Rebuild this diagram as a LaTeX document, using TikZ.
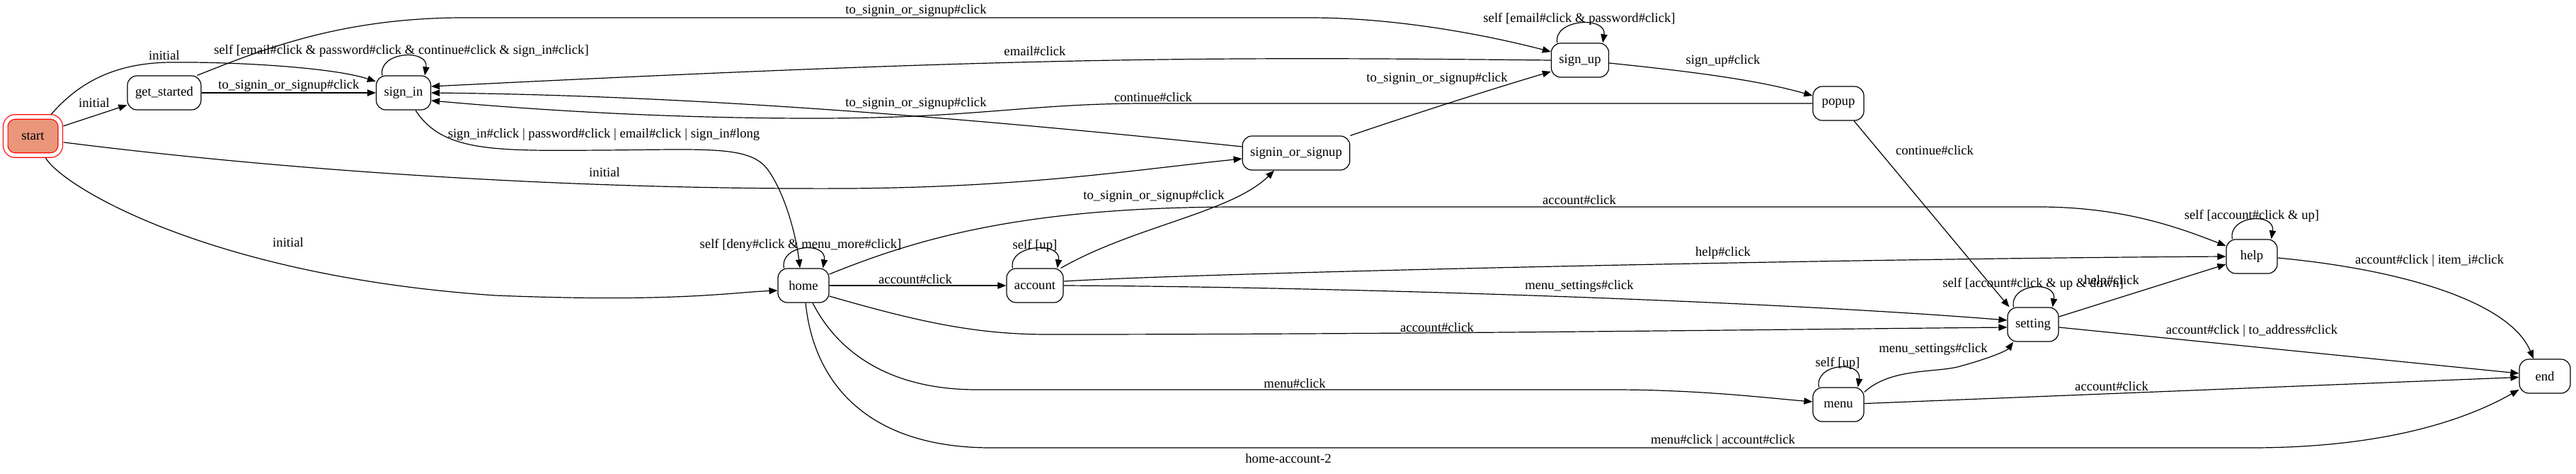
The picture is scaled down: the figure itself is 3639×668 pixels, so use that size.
\documentclass[tikz,border=0pt]{standalone}
\usepackage{fontspec}
\setmainfont{Liberation Serif}
\usetikzlibrary{arrows.meta,calc}
\definecolor{salmonfill}{HTML}{E9967A}
\tikzset{
 state/.style={draw, line width=0.9pt, rounded corners=10pt, minimum width=54pt, minimum height=36pt, inner xsep=8.25pt, inner ysep=0pt, font=\fontsize{14pt}{16pt}\selectfont},
 startstate/.style={state, draw=red, fill=salmonfill, double=white, double distance=4pt, minimum width=58pt, minimum height=40.5pt},
 lbl/.style={font=\fontsize{14pt}{16pt}\selectfont, inner sep=0pt},
 arr/.style={line width=0.9pt, -{Triangle[length=9pt,width=7pt]}},
}
\newcommand{\selfloop}[1]{\draw[arr] ($(#1.north west)+(9,0)$) .. controls ($(#1.north west)+(3,-34)$) and ($(#1.north east)+(-3,-38)$) .. ($(#1.north east)+(-9,0)$);}
\begin{document}
\begin{tikzpicture}[x=0.75pt,y=-0.75pt]
\useasboundingbox (0,0) rectangle (3639,668);
% nodes
\node[startstate] (start) at (46.5,192) {start};
\node[state] (getstarted) at (232,131) {get\_started};
\node[state] (signin) at (570,131) {sign\_in};
\node[state] (signup) at (2232,85) {sign\_up};
\node[state] (popup) at (2597,146) {popup};
\node[state] (sos) at (1831,216) {signin\_or\_signup};
\node[state] (home) at (1135,403) {home};
\node[state] (account) at (1462,403) {account};
\node[state] (setting) at (2872,458) {setting};
\node[state] (help) at (3181,362) {help};
\node[state] (menu) at (2597,571) {menu};
\node[state] (end) at (3595,531) {end};
% edges from start
\draw[arr, shorten <=3pt] (start) -- (getstarted);
\draw[arr, shorten <=3pt] (start.50) .. controls (110,118) and (160,89) .. (240,88) .. controls (330,87) and (470,95) .. ($(signin.west)+(0,-16)$);
\draw[arr, shorten <=3pt] (start.-12) .. controls (400,240) and (800,268) .. (1200,266) .. controls (1450,264) and (1600,240) .. ($(sos.west)+(0,8)$);
\draw[arr, shorten <=3pt] (start.-60) .. controls (90,265) and (300,390) .. (700,417) .. controls (950,427) and (1030,413) .. ($(home.west)+(0,7)$);
% get_started
\draw[arr] (getstarted) -- (signin);
\draw[arr] ($(getstarted.north east)+(-6,0)$) .. controls (370,70) and (480,26) .. (650,25) -- (1850,25) .. controls (1980,25) and (2110,52) .. ($(signup.west)+(0,-12)$);
% sign_in
\selfloop{signin}
\draw[arr] ($(signin.south)+(17,0)$) .. controls (625,215) and (700,213) .. (850,212) .. controls (1000,211) and (1060,205) .. (1085,240) .. controls (1110,275) and (1125,335) .. ($(home.north)+(-5,0)$);
% sign_up
\selfloop{signup}
\draw[arr] (signup.west) .. controls (1700,80) and (1450,80) .. ($(signin.east)+(0,-9)$);
\draw[arr] ($(signup.east)+(0,4)$) .. controls (2380,100) and (2480,112) .. ($(popup.west)+(0,-11)$);
% signin_or_signup
\draw[arr] ($(sos.west)+(0,-9)$) .. controls (1400,170) and (1000,135) .. (signin.east);
\draw[arr] (sos.north east) .. controls (2000,160) and (2100,128) .. ($(signup.west)+(0,16)$);
% popup
\draw[arr] (popup.west) -- (1620,146) .. controls (1450,146) and (1380,167) .. (1150,167) .. controls (900,167) and (700,150) .. ($(signin.east)+(0,11)$);
\draw[arr] ($(popup.south)+(22,0)$) -- ($(setting.north west)+(3,0)$);
% home
\selfloop{home}
\draw[arr] (home) -- (account);
\draw[arr] ($(home.east)+(0,-16)$) .. controls (1300,335) and (1450,292) .. (1750,292) -- (2880,292) .. controls (3000,292) and (3080,322) .. ($(help.west)+(0,-15)$);
\draw[arr] ($(home.east)+(0,15)$) .. controls (1300,455) and (1380,472) .. (1480,472) .. controls (2000,472) and (2500,465) .. ($(setting.west)+(0,4)$);
\draw[arr] ($(home.south)+(13,0)$) .. controls (1185,500) and (1260,550) .. (1380,550) -- (2280,550) .. controls (2400,550) and (2500,562) .. ($(menu.west)+(0,-4)$);
\draw[arr] ($(home.south)+(3,0)$) .. controls (1150,545) and (1230,632) .. (1400,632) -- (3180,632) .. controls (3350,632) and (3470,600) .. ($(end.west)+(0,19)$);
% account
\selfloop{account}
\draw[arr] ($(account.north east)+(-4,0)$) .. controls (1600,320) and (1740,300) .. ($(sos.south)+(-31,0)$);
\draw[arr] ($(account.east)+(0,-6)$) .. controls (1700,385) and (2600,365) .. (help.west);
\draw[arr] (account.east) .. controls (1900,405) and (2500,425) .. ($(setting.west)+(0,-6)$);
% menu
\selfloop{menu}
\draw[arr] ($(menu.north east)+(0,7)$) .. controls (2670,520) and (2730,526) .. (2765,518) .. controls (2810,506) and (2835,495) .. ($(setting.south)+(-28,0)$);
\draw[arr] (menu) -- (end);
% setting
\selfloop{setting}
\draw[arr] ($(setting.east)+(0,-11)$) -- ($(help.west)+(0,11)$);
\draw[arr] ($(setting.east)+(0,4)$) -- ($(end.west)+(0,-4)$);
% help
\selfloop{help}
\draw[arr] ($(help.east)+(0,2)$) .. controls (3390,380) and (3545,425) .. ($(end.north)+(-16,0)$);
% labels
\node[lbl] (l1) at (133,145) {initial};
\node[lbl] (l2) at (232,78) {initial};
\node[lbl] (l3) at (854,243) {initial};
\node[lbl] (l4) at (407,342) {initial};
\node[lbl] (l5) at (408,121) {to\_signin\_or\_signup\#click};
\node[lbl] (l6) at (1294,15) {to\_signin\_or\_signup\#click};
\node[lbl] (l7) at (567,72) {self [email\#click \& password\#click \& continue\#click \& sign\_in\#click]};
\node[lbl] (l8) at (853,190) {sign\_in\#click | password\#click | email\#click | sign\_in\#long};
\node[lbl] (l9) at (1462,72) {email\#click};
\node[lbl] (l10) at (1294,146) {to\_signin\_or\_signup\#click};
\node[lbl] (l11) at (1629,137) {continue\#click};
\node[lbl] (l12) at (2231,27) {self [email\#click \& password\#click]};
\node[lbl] (l13) at (2434,86) {sign\_up\#click};
\node[lbl] (l14) at (2030,111) {to\_signin\_or\_signup\#click};
\node[lbl] (l15) at (2733,212) {continue\#click};
\node[lbl] (l16) at (1131,346) {self [deny\#click \& menu\_more\#click]};
\node[lbl] (l17) at (1293,394) {account\#click};
\node[lbl] (l18) at (1462,347) {self [up]};
\node[lbl] (l19) at (1630,277) {to\_signin\_or\_signup\#click};
\node[lbl] (l20) at (2231,282) {account\#click};
\node[lbl] (l21) at (2434,357) {help\#click};
\node[lbl] (l22) at (2231,404) {menu\_settings\#click};
\node[lbl] (l23) at (2030,462) {account\#click};
\node[lbl] (l24) at (1829,541) {menu\#click};
\node[lbl] (l25) at (2434,622) {menu\#click | account\#click};
\node[lbl] (l26) at (2596,513) {self [up]};
\node[lbl] (l27) at (2731,493) {menu\_settings\#click};
\node[lbl] (l28) at (2983,545) {account\#click};
\node[lbl] (l29) at (2872,401) {self [account\#click \& up \& down]};
\node[lbl] (l30) at (2983,397) {help\#click};
\node[lbl] (l31) at (3181,467) {account\#click | to\_address\#click};
\node[lbl] (l32) at (3181,305) {self [account\#click \& up]};
\node[lbl] (l33) at (3432,368) {account\#click | item\_i\#click};
\node[lbl] (glabel) at (1820,647) {home-account-2};
\end{tikzpicture}
\end{document}
